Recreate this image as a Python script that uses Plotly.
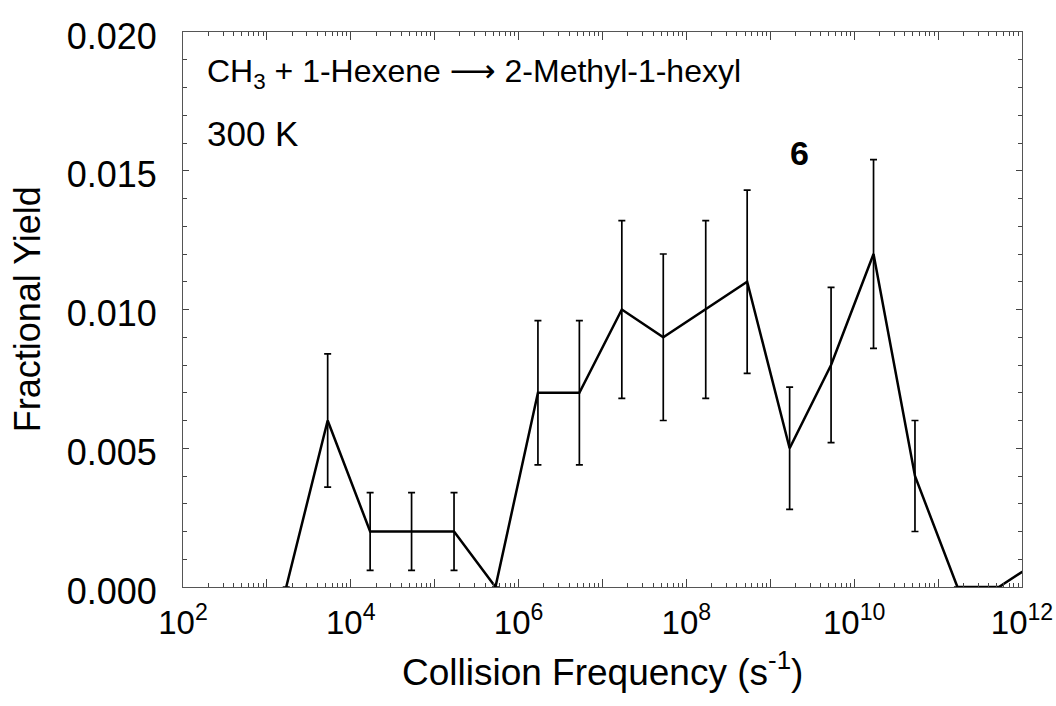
import plotly.graph_objects as go

# Collision frequency (s^-1) and fractional yields
freq = [1.7e3, 5.3e3, 1.7e4, 5.3e4, 1.7e5, 5.3e5, 1.7e6, 5.3e6, 1.7e7, 5.3e7,
        1.7e8, 5.3e8, 1.7e9, 5.3e9, 1.7e10, 5.3e10, 1.7e11, 5.3e11, 1.7e12]
yield_frac = [0.000, 0.006, 0.002, 0.002, 0.002, 0.000, 0.007, 0.007, 0.010, 0.009,
              0.010, 0.011, 0.005, 0.008, 0.012, 0.004, 0.000, 0.000, 0.001]
yield_err = [None, 0.0024, 0.0014, 0.0014, 0.0014, None, 0.0026, 0.0026, 0.0032, 0.0030,
             0.0032, 0.0033, 0.0022, 0.0028, 0.0034, 0.0020, None, None, None]

x_tickvals = [1e2, 1e3, 1e4, 1e5, 1e6, 1e7, 1e8, 1e9, 1e10, 1e11, 1e12]
x_ticktext = ["10<sup>2</sup>", "", "10<sup>4</sup>", "", "10<sup>6</sup>", "",
              "10<sup>8</sup>", "", "10<sup>10</sup>", "", "10<sup>12</sup>"]
y_tickvals = [0.000, 0.005, 0.010, 0.015, 0.020]
y_ticktext = ["0.000", "0.005", "0.010", "0.015", "0.020"]

minor_x = [m * 10 ** e for e in range(2, 12) for m in range(2, 10)]

FONT = "Liberation Sans, Arial, sans-serif"

fig = go.Figure()
fig.add_trace(go.Scatter(
    x=freq, y=yield_frac, mode="lines",
    line=dict(color="black", width=2.5),
    error_y=dict(type="data", array=[e if e is not None else 0 for e in yield_err],
                 visible=True, color="black", thickness=1.7, width=3.5),
    showlegend=False,
))

fig.update_layout(
    width=1056, height=706,
    margin=dict(l=183, r=34, t=32, b=119, autoexpand=False),
    paper_bgcolor="white", plot_bgcolor="white",
    font=dict(family=FONT, color="black"),
    xaxis=dict(
        type="log", range=[2, 12], automargin=False,
        tickmode="array", tickvals=x_tickvals, ticktext=x_ticktext,
        ticks="inside", ticklen=8, tickwidth=1, tickcolor="#444",
        minor=dict(tickmode="array", tickvals=minor_x, ticks="inside",
                   ticklen=4, tickwidth=1, tickcolor="#444", showgrid=False),
        showgrid=False, zeroline=False,
        showline=True, linecolor="#555", linewidth=1, mirror="ticks",
        tickfont=dict(family=FONT, size=33),
        ticklabelstandoff=6, ticklabeloverflow="allow",
    ),
    yaxis=dict(
        range=[0, 0.020], automargin=False,
        tickmode="array", tickvals=y_tickvals, ticktext=y_ticktext,
        ticks="inside", ticklen=6, tickwidth=1, tickcolor="#444",
        minor=dict(dtick=0.001, ticks="inside", ticklen=4, tickwidth=1,
                   tickcolor="#444", showgrid=False),
        showgrid=False, zeroline=False,
        showline=True, linecolor="#555", linewidth=1, mirror="ticks",
        tickfont=dict(family=FONT, size=36),
        ticklabelstandoff=18, ticklabelshift=4, ticklabeloverflow="allow",
    ),
)

fig.add_annotation(text="CH<sub>3</sub> + 1-Hexene <span style=\"font-family:DejaVu Sans\">\u27f6</span> 2-Methyl-1-hexyl",
                   xref="paper", yref="paper", x=0.026, y=0.927,
                   xanchor="left", yanchor="middle", showarrow=False,
                   font=dict(family=FONT, size=32))
fig.add_annotation(text="300 K", xref="paper", yref="paper", x=0.026, y=0.818,
                   xanchor="left", yanchor="middle", showarrow=False,
                   font=dict(family=FONT, size=35))
fig.add_annotation(text="<b>6</b>", xref="paper", yref="paper", x=0.735, y=0.782,
                   xanchor="center", yanchor="middle", showarrow=False,
                   font=dict(family=FONT, size=34))
fig.add_annotation(text="Fractional Yield", xref="paper", yref="paper",
                   x=-0.185, y=0.5, textangle=-90,
                   xanchor="center", yanchor="middle", showarrow=False,
                   font=dict(family=FONT, size=36))
fig.add_annotation(text="Collision Frequency (s<sup>-1</sup>)", xref="paper", yref="paper",
                   x=0.5, y=-0.148, xanchor="center", yanchor="middle", showarrow=False,
                   font=dict(family=FONT, size=37))

fig.write_html("out.html")
